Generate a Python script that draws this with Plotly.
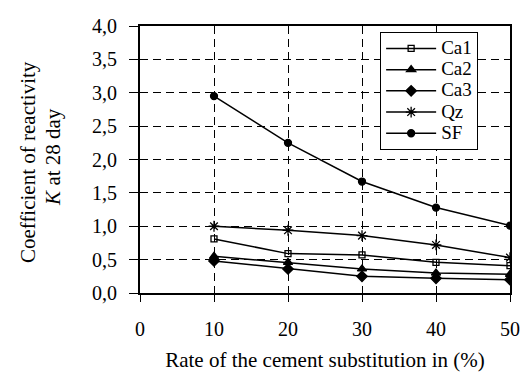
import plotly.graph_objects as go

rates = [10, 20, 30, 40, 50]
ca1 = [0.81, 0.59, 0.57, 0.46, 0.41]
ca2 = [0.55, 0.46, 0.36, 0.30, 0.28]
ca3 = [0.48, 0.36, 0.25, 0.22, 0.20]
qz = [1.00, 0.94, 0.86, 0.72, 0.53]
sf = [2.95, 2.25, 1.67, 1.28, 1.01]
names = ["Ca1", "Ca2", "Ca3", "Qz", "SF"]

series = [
    (names[0], ca1, "square-open", 6),
    (names[1], ca2, "triangle-up", 8),
    (names[2], ca3, "diamond", 8),
    (names[3], qz, "asterisk-open", 9),
    (names[4], sf, "circle", 7),
]

FONT = "'Liberation Serif', 'Times New Roman', serif"

fig = go.Figure()
for name, vals, sym, sz in series:
    fig.add_trace(go.Scatter(
        x=rates, y=vals, name='<span style="font-size:19px">' + name + '</span>',
        mode="lines+markers",
        line=dict(color="black", width=1.5),
        marker=dict(symbol=sym, size=sz, color="black",
                    line=dict(color="black", width=1.3)),
    ))

fig.update_layout(
    width=528, height=376,
    margin=dict(l=132, r=26, t=18, b=91),
    paper_bgcolor="white", plot_bgcolor="white",
    separators=",.",
    font=dict(family=FONT, size=20, color="black"),
    showlegend=True,
    legend=dict(x=0.649, y=0.978, xanchor="left", yanchor="top",
                bordercolor="black", borderwidth=1, bgcolor="white",
                font=dict(family=FONT, size=14, color="black"), itemwidth=50,
                tracegroupgap=0),
    xaxis=dict(range=[0, 50], tickvals=[0, 10, 20, 30, 40, 50],
               showgrid=True, gridcolor="black", griddash="8px,5px", gridwidth=1,
               showline=True, linecolor="black", linewidth=1.8, mirror=True,
               zeroline=False, ticks="outside", ticklen=7, tickcolor="black",
               automargin=False, ticklabelstandoff=10,
               tickfont=dict(family=FONT, size=20, color="black"),
               title=dict(text="Rate of the cement substitution in (%)",
                          font=dict(family=FONT, size=21, color="black"),
                          standoff=13)),
    yaxis=dict(range=[0, 4], tickvals=[0, 0.5, 1, 1.5, 2, 2.5, 3, 3.5, 4],
               tickformat=".1f", automargin=False,
               showgrid=True, gridcolor="black", griddash="8px,5px", gridwidth=1,
               showline=True, linecolor="black", linewidth=1.8, mirror=True,
               zeroline=False, ticks="outside", ticklen=9, tickcolor="black",
               ticklabelstandoff=8,
               tickfont=dict(family=FONT, size=20, color="black")),
    annotations=[
        dict(text="Coefficient of reactivity", xref="paper", yref="paper",
             x=-0.303, y=0.49, textangle=-90, showarrow=False,
             xanchor="center", yanchor="middle",
             font=dict(family=FONT, size=21, color="black")),
        dict(text="<i>K</i> at 28 day", xref="paper", yref="paper",
             x=-0.235, y=0.51, textangle=-90, showarrow=False,
             xanchor="center", yanchor="middle",
             font=dict(family=FONT, size=21, color="black")),
    ],
)

fig.write_html("out.html")
